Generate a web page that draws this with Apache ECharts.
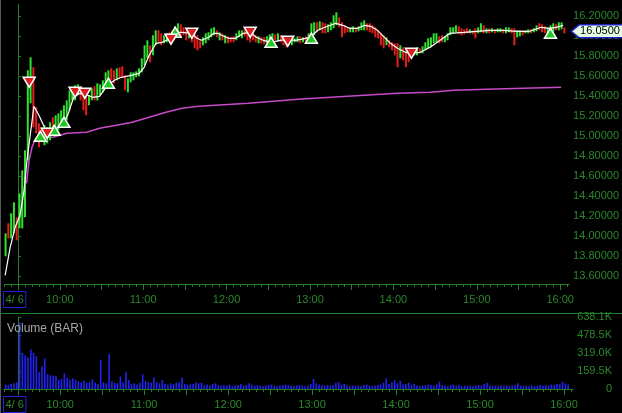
<!DOCTYPE html>
<html><head><meta charset="utf-8">
<script src="https://cdn.jsdelivr.net/npm/echarts@6/dist/echarts.min.js"></script>
<style>html,body{margin:0;padding:0;background:#000;}#c{width:622px;height:413px;}</style>
</head><body><div id="c"></div>
<script>
// ---------- DATA (2-minute bars, time in minutes from 9:30) ----------
const barTime = [
 -9,-7,-5,-3,-1,1,3,5,7,9,
 11,13,15,17,19,21,23,25,27,29,
 31,33,35,37,39,41,43,45,47,49,
 51,53,55,57,59,61,63,65,67,69,
 71,73,75,77,79,81,83,85,87,89,
 91,93,95,97,99,101,103,105,107,109,
 111,113,115,117,119,121,123,125,127,129,
 131,133,135,137,139,141,143,145,147,149,
 151,153,155,157,159,161,163,165,167,169,
 171,173,175,177,179,181,183,185,187,189,
 191,193,195,197,199,201,203,205,207,209,
 211,213,215,217,219,221,223,225,227,229,
 231,233,235,237,239,241,243,245,247,249,
 251,253,255,257,259,261,263,265,267,269,
 271,273,275,277,279,281,283,285,287,289,
 291,293,295,297,299,301,303,305,307,309,
 311,313,315,317,319,321,323,325,327,329,
 331,333,335,337,339,341,343,345,347,349,
 351,353,355,357,359,361,363,365,367,369,
 371,373,375,377,379,381,383,385,387,389,
 391,393];
const openPrice = [
 13.83,14.10,14.00,14.08,14.18,14.10,14.15,14.40,14.80,15.40,
 15.65,15.25,15.10,15.06,14.98,14.99,15.02,15.15,15.09,15.10,
 15.15,15.18,15.20,15.30,15.38,15.40,15.44,15.48,15.45,15.38,
 15.32,15.38,15.47,15.40,15.44,15.46,15.52,15.55,15.66,15.64,
 15.58,15.67,15.69,15.60,15.46,15.56,15.58,15.60,15.62,15.65,
 15.74,15.82,15.90,15.84,15.94,16.04,16.01,15.95,15.96,16.02,
 16.05,16.02,16.05,16.11,16.07,16.05,15.99,16.03,16.01,15.98,
 15.95,15.92,15.95,15.98,16.00,16.03,16.06,15.99,16.02,15.95,
 15.99,15.98,15.99,15.97,16.00,16.00,16.06,16.05,16.04,16.01,
 16.00,15.95,15.98,15.97,15.94,15.95,15.96,16.01,15.97,16.00,
 15.98,15.96,15.97,15.93,15.95,15.95,15.99,15.95,15.99,15.97,
 16.00,16.04,16.13,16.07,16.12,16.11,16.06,16.08,16.10,16.13,
 16.18,16.12,16.10,16.08,16.05,16.05,16.08,16.06,16.07,16.08,
 16.12,16.11,16.09,16.07,16.04,16.01,15.98,15.92,15.95,15.93,
 15.91,15.88,15.80,15.87,15.83,15.84,15.85,15.82,15.82,15.87,
 15.84,15.87,15.90,15.91,15.95,15.96,15.99,16.00,15.95,15.97,
 16.02,16.04,16.05,16.09,16.07,16.06,16.07,16.04,16.06,16.06,
 16.04,16.05,16.10,16.04,16.07,16.05,16.06,16.05,16.05,16.06,
 16.04,16.05,16.07,16.06,16.00,16.01,16.05,16.03,16.04,16.06,
 16.05,16.06,16.12,16.11,16.09,16.04,16.04,16.05,16.11,16.07,
 16.08,16.08];
const highPrice = [
 14.03,14.13,14.23,14.34,14.19,14.43,14.66,14.86,15.66,15.79,
 15.69,15.29,15.13,15.09,15.11,15.09,15.14,15.19,15.21,15.23,
 15.26,15.31,15.36,15.46,15.49,15.51,15.52,15.50,15.48,15.44,
 15.41,15.48,15.50,15.53,15.52,15.56,15.64,15.66,15.68,15.66,
 15.68,15.69,15.70,15.61,15.58,15.64,15.64,15.65,15.68,15.78,
 15.91,15.96,15.91,16.01,16.06,16.06,16.03,16.01,16.03,16.04,
 16.06,16.10,16.13,16.12,16.09,16.06,16.06,16.04,16.03,16.01,
 15.96,15.99,16.03,16.04,16.08,16.09,16.06,16.04,16.03,16.01,
 16.00,15.99,16.00,16.03,16.06,16.06,16.07,16.06,16.06,16.03,
 16.01,16.00,15.99,15.99,16.00,16.02,16.03,16.02,16.03,16.01,
 15.99,15.98,15.99,15.98,15.98,16.00,16.00,15.99,16.00,16.03,
 16.13,16.14,16.14,16.15,16.14,16.13,16.12,16.14,16.21,16.24,
 16.19,16.14,16.11,16.09,16.09,16.10,16.09,16.10,16.14,16.16,
 16.13,16.13,16.11,16.09,16.06,16.03,16.01,15.99,15.96,15.94,
 15.93,15.93,15.91,15.89,15.86,15.86,15.86,15.88,15.89,15.88,
 15.90,15.94,15.98,15.99,16.03,16.03,16.00,16.01,16.00,16.03,
 16.09,16.09,16.11,16.10,16.08,16.07,16.08,16.07,16.06,16.08,
 16.09,16.13,16.11,16.08,16.08,16.08,16.07,16.08,16.08,16.07,
 16.09,16.09,16.08,16.08,16.06,16.06,16.06,16.06,16.07,16.07,
 16.08,16.11,16.13,16.12,16.10,16.09,16.11,16.13,16.12,16.14,
 16.14,16.09];
const lowPrice = [
 13.80,13.98,13.98,14.03,13.96,14.08,14.08,14.19,14.76,15.33,
 15.09,15.03,14.89,14.96,14.91,14.93,14.96,15.04,15.06,15.06,
 15.11,15.14,15.16,15.26,15.36,15.36,15.41,15.36,15.26,15.21,
 15.31,15.36,15.36,15.36,15.41,15.44,15.49,15.51,15.56,15.53,
 15.56,15.58,15.59,15.46,15.44,15.54,15.56,15.59,15.60,15.64,
 15.71,15.78,15.74,15.81,15.91,15.94,15.91,15.93,15.94,15.96,
 15.96,16.01,16.03,15.99,16.01,15.96,15.98,15.94,15.88,15.86,
 15.88,15.91,15.93,15.96,15.99,16.01,15.99,15.96,15.96,15.93,
 15.93,15.94,15.94,15.96,15.99,15.98,16.00,15.96,15.94,15.96,
 15.94,15.93,15.93,15.92,15.93,15.93,15.94,15.96,15.95,15.94,
 15.91,15.89,15.92,15.91,15.94,15.94,15.93,15.94,15.95,15.96,
 15.98,16.01,16.04,16.06,16.03,16.03,16.04,16.06,16.08,16.11,
 16.09,15.99,16.03,16.04,16.04,16.04,16.04,16.05,16.06,16.06,
 16.06,16.04,16.03,15.99,15.98,15.91,15.88,15.91,15.89,15.86,
 15.81,15.69,15.78,15.76,15.69,15.74,15.79,15.81,15.81,15.83,
 15.83,15.86,15.88,15.89,15.93,15.94,15.93,15.94,15.94,15.96,
 16.01,16.03,16.04,16.03,16.01,16.02,16.03,16.03,16.02,15.98,
 16.03,16.04,16.03,16.03,16.03,16.04,16.03,16.04,16.04,16.03,
 16.03,16.04,16.03,15.91,15.99,16.00,16.01,16.03,16.03,16.03,
 16.04,16.05,16.06,16.04,16.03,16.03,16.03,16.04,16.06,16.06,
 16.07,16.03];
const closePrice = [
 14.00,14.00,14.20,14.30,13.98,14.40,14.62,14.82,15.45,15.70,
 15.15,15.08,14.98,15.00,15.06,15.05,15.10,15.08,15.18,15.20,
 15.22,15.28,15.33,15.43,15.46,15.48,15.50,15.40,15.30,15.26,
 15.38,15.45,15.40,15.50,15.50,15.54,15.62,15.63,15.59,15.56,
 15.66,15.60,15.61,15.50,15.56,15.62,15.63,15.64,15.66,15.76,
 15.88,15.93,15.80,15.98,16.03,15.97,15.94,16.00,16.01,15.97,
 15.98,16.08,16.11,16.02,16.03,15.99,16.04,15.96,15.91,15.89,
 15.90,15.98,16.01,16.03,16.07,16.08,16.01,16.03,15.98,15.99,
 15.95,15.95,15.95,16.02,16.05,16.04,16.02,15.98,15.97,15.97,
 15.96,15.99,15.94,15.94,15.99,16.00,16.02,15.98,16.01,15.96,
 15.93,15.91,15.94,15.97,15.97,15.99,15.95,15.98,15.96,16.02,
 16.10,16.12,16.06,16.13,16.05,16.05,16.10,16.12,16.19,16.20,
 16.11,16.02,16.05,16.05,16.08,16.08,16.05,16.09,16.12,16.14,
 16.07,16.06,16.05,16.01,16.00,15.93,15.90,15.97,15.91,15.88,
 15.84,15.75,15.88,15.79,15.73,15.78,15.80,15.87,15.87,15.84,
 15.89,15.92,15.96,15.97,16.01,16.02,15.95,15.96,15.99,16.02,
 16.08,16.08,16.10,16.04,16.03,16.04,16.04,16.06,16.03,16.00,
 16.08,16.11,16.05,16.07,16.04,16.07,16.04,16.07,16.07,16.04,
 16.08,16.08,16.04,15.95,16.05,16.05,16.02,16.05,16.06,16.04,
 16.07,16.10,16.07,16.06,16.05,16.08,16.09,16.11,16.07,16.12,
 16.12,16.05];
const volumeK = [
 40,35,45,50,60,590,320,300,280,350,
 320,290,150,200,270,130,120,120,115,80,
 90,140,100,85,95,80,70,60,75,55,
 60,85,55,45,260,60,50,310,70,55,
 50,110,60,150,80,45,50,40,55,130,
 70,60,55,105,60,50,80,45,40,50,
 45,55,60,100,45,40,40,45,60,50,
 55,35,40,30,45,50,35,30,35,30,
 40,25,30,35,45,30,35,50,40,30,
 35,30,25,30,35,40,30,25,30,35,
 40,35,30,25,30,35,30,25,30,45,
 90,50,40,35,30,35,30,35,55,60,
 40,45,30,25,30,25,30,25,35,40,
 30,25,30,35,40,55,95,45,60,80,
 50,72,40,45,55,40,45,30,25,30,
 35,40,35,30,40,65,35,30,25,35,
 40,30,35,25,30,25,30,25,30,35,
 30,45,55,30,25,30,25,30,25,30,
 25,30,35,50,30,25,30,25,30,25,
 30,35,30,35,30,40,35,45,40,65,
 50,40];
// smoothed (white) line
const maTime = [-9.3,-5.7,-2.1,1.4,4.3,6.4,11.4,15,19.3,21.4,26.4,32.1,35.7,40,44.3,48.6,53.6,58.6,64.3,69.3,
 74.3,81.4,87.1,90.7,94.3,99.3,103.6,110,113.6,117.9,125,128.6,132.1,137.1,140.7,143.6,146.4,151.4,156.4,162.1,
 167.1,171.4,176.4,182.1,188.6,193.6,199.3,203.6,210,215.7,220.7,228.6,233.6,238.6,244.3,249.3,253.6,258.6,263.6,267.9,
 272.9,278.6,282.9,289.3,296.4,303.6,310.7,320.7,330,339.3,349.3,358.6,367.9,376.4,382.1,387.1,392.1];
const maValue = [13.61,13.89,14.09,14.21,14.46,14.76,15.30,15.21,15.08,15.03,15.06,15.13,15.21,15.39,15.43,15.42,15.39,15.40,15.51,15.56,
 15.59,15.61,15.63,15.69,15.81,15.93,15.94,15.98,16.04,16.04,16.03,15.98,15.96,15.99,16.03,16.03,16.01,15.98,15.98,16.03,
 16.04,15.99,15.96,15.94,15.96,15.97,15.96,15.97,15.99,16.06,16.09,16.13,16.11,16.08,16.08,16.11,16.10,16.06,15.99,15.93,
 15.88,15.84,15.83,15.84,15.89,15.96,16.03,16.04,16.05,16.06,16.06,16.05,16.05,16.09,16.08,16.09,16.11];
// VWAP (magenta) line
const vwapTime = [6.1,7.9,10,12.1,17.9,25,35,49.3,58.6,70.7,82.1,94.3,106.4,117.9,130,165.7,201.4,237.1,272.9,296.4,313.6,337.1,363.6,390.7];
const vwapValue = [14.53,14.76,14.89,14.96,14.99,14.99,15.03,15.04,15.08,15.11,15.14,15.19,15.24,15.28,15.30,15.33,15.37,15.40,15.43,15.44,15.46,15.47,15.48,15.49];
// signal markers
const buyTime = [16,26,33,65,113,182,211,383];
const buyPrice = [15.00,15.06,15.14,15.53,16.04,15.94,15.98,16.03];
const sellTime = [8,21,41,48,110,125,167,194,283];
const sellPrice = [15.54,15.03,15.44,15.43,15.97,16.03,16.04,15.95,15.83];
const lastPrice = 16.05;
// axis ticks / labels
const priceTicks = [13.6,13.8,14.0,14.2,14.4,14.6,14.8,15.0,15.2,15.4,15.6,15.8,16.0,16.2];
const volumeTicks = [0,159500,319000,478500,638100];
const volumeTickLabels = ['0','159.5K','319.0K','478.5K','638.1K'];
const timeLabelValues = [-2.5,30,90,150,210,270,330,390];
const timeLabels = ['4/ 6','10:00','11:00','12:00','13:00','14:00','15:00','16:00'];

// ---------- STYLE ----------
const FONT = '"Liberation Sans", Arial, sans-serif';
const AXIS = '#1e801e';
const LABEL = '#2b882b';
const UP = '#2fe02f', DOWN = '#e41e1e', VOL = '#2222f4';
const X_MIN = -10, X_MAX = 396.43;
const fiveMinTicks = []; for (let t = -10; t <= 395; t += 5) fiveMinTicks.push(t);
const halfHourTicks = []; for (let t = 0; t <= 390; t += 30) halfHourTicks.push(t);

function timeAxes(g) {
  return [
    {type:'value', gridIndex:g, min:X_MIN, max:X_MAX, position:'bottom',
     axisLine:{show:true, lineStyle:{color:AXIS, width:1}},
     axisTick:{show:true, customValues:fiveMinTicks, length:3, lineStyle:{color:AXIS}},
     axisLabel:{show:false}, splitLine:{show:false}},
    {type:'value', gridIndex:g, min:X_MIN, max:X_MAX, position:'bottom',
     axisLine:{show:false},
     axisTick:{show:true, customValues:halfHourTicks, length:6, lineStyle:{color:AXIS}},
     axisLabel:{show:true, customValues:timeLabelValues, margin:7.5,
       formatter:function(v){const i=timeLabelValues.indexOf(v); if(i<0) return ''; return (i===0?'{d|':'{t|')+timeLabels[i]+'}';},
       rich:{
         t:{color:LABEL, fontSize:11, fontFamily:FONT, padding:[3,2,2,2]},
         d:{color:LABEL, fontSize:11, fontFamily:FONT, padding:[3,2,2,2], borderColor:'#2323d8', borderWidth:1}
       }},
     splitLine:{show:false}}
  ];
}

function renderBar(params, api) {
  const t = api.value(0);
  const top = api.coord([t, api.value(2)]);
  const bot = api.coord([t, api.value(3)]);
  const rising = api.value(4) >= api.value(1);
  return {type:'rect', shape:{x: top[0]-1, y: top[1], width: 2, height: Math.max(1, bot[1]-top[1])},
          style:{fill: rising ? UP : DOWN}};
}
function renderVol(params, api) {
  const t = api.value(0);
  const top = api.coord([t, api.value(1)]);
  const base = api.coord([t, 0]);
  return {type:'rect', shape:{x: top[0]-0.8, y: top[1], width: 1.6, height: base[1]-top[1]},
          style:{fill: VOL}};
}

const chart = echarts.init(document.getElementById('c'), null, {renderer:'canvas', width:622, height:413});
const option = {
  backgroundColor:'#000000',
  animation:false,
  grid:[{left:4, right:49, top:4, bottom:129}, {left:4, right:49, top:317, bottom:24}],
  xAxis: timeAxes(0).concat(timeAxes(1)),
  yAxis:[
    {type:'value', gridIndex:0, position:'right', min:13.523, max:16.323,
     axisLine:{show:true, lineStyle:{color:AXIS}},
     axisTick:{show:true, customValues:priceTicks, length:3, lineStyle:{color:AXIS}},
     axisLabel:{customValues:priceTicks, formatter:function(v){return v.toFixed(5);}, color:LABEL, fontSize:11, fontFamily:FONT, margin:4},
     splitLine:{show:false}},
    {type:'value', gridIndex:1, position:'right', min:0, max:638100,
     axisLine:{show:true, lineStyle:{color:AXIS}},
     axisTick:{show:true, customValues:volumeTicks, length:3, lineStyle:{color:AXIS}},
     axisLabel:{customValues:volumeTicks, formatter:function(v){const i=volumeTicks.indexOf(v); return i<0?'':volumeTickLabels[i];},
       color:LABEL, fontSize:11, fontFamily:FONT, align:'right', margin:39},
     splitLine:{show:false}}
  ],
  series:[
    {type:'line', xAxisIndex:0, yAxisIndex:0, z:2, symbol:'none',
     data: vwapTime.map((t,i)=>[t, vwapValue[i]]), lineStyle:{color:'#c84ac8', width:1.5}},
    {type:'custom', xAxisIndex:0, yAxisIndex:0, z:3, renderItem:renderBar,
     encode:{x:0, y:[1,2,3,4]},
     data: barTime.map((t,i)=>[t, openPrice[i], highPrice[i], lowPrice[i], closePrice[i]])},
    {type:'line', xAxisIndex:0, yAxisIndex:0, z:4, symbol:'none',
     data: maTime.map((t,i)=>[t, maValue[i]]), lineStyle:{color:'#ffffff', width:1.2}},
    {type:'scatter', xAxisIndex:0, yAxisIndex:0, z:5, symbol:'triangle', symbolSize:[12,10],
     itemStyle:{color:'#22c822', borderColor:'#ffffff', borderWidth:1.5, opacity:1},
     data: buyTime.map((t,i)=>[t, buyPrice[i]])},
    {type:'scatter', xAxisIndex:0, yAxisIndex:0, z:5, symbol:'triangle', symbolRotate:180, symbolSize:[12,10],
     itemStyle:{color:'#dc1e1e', borderColor:'#ffffff', borderWidth:1.5, opacity:1},
     data: sellTime.map((t,i)=>[t, sellPrice[i]])},
    {type:'custom', xAxisIndex:2, yAxisIndex:1, z:3, renderItem:renderVol,
     encode:{x:0, y:1},
     data: barTime.map((t,i)=>[t, volumeK[i]*1000])}
  ]
};
chart.setOption(option);

const tip = chart.convertToPixel({xAxisIndex:0, yAxisIndex:0}, [X_MAX, lastPrice]);
const ty = tip[1], tx = tip[0] + 2;
chart.setOption({
  graphic:[
    {type:'line', shape:{x1:0.5, y1:0, x2:0.5, y2:413}, style:{stroke:'#5a5a5a', lineWidth:1}, z:10},
    {type:'line', shape:{x1:0, y1:313.5, x2:622, y2:313.5}, style:{stroke:AXIS, lineWidth:1}, z:10},
    {type:'text', left:7, top:323, z:10, style:{text:'Volume (BAR)', fill:'#a6a6a6', font:'12px '+FONT}},
    {type:'polygon', z:20, shape:{points:[[tx,ty],[tx+8,ty-6.5],[624,ty-6.5],[624,ty+6.5],[tx+8,ty+6.5]]},
     style:{fill:'#e6ffe6', stroke:'#1f1fc0', lineWidth:1.5}},
    {type:'text', z:21, x:tx+9, y:ty, style:{text:lastPrice.toFixed(4), fill:'#000000', font:'11px '+FONT, verticalAlign:'middle', align:'left'}}
  ]
});
</script>
</body></html>
